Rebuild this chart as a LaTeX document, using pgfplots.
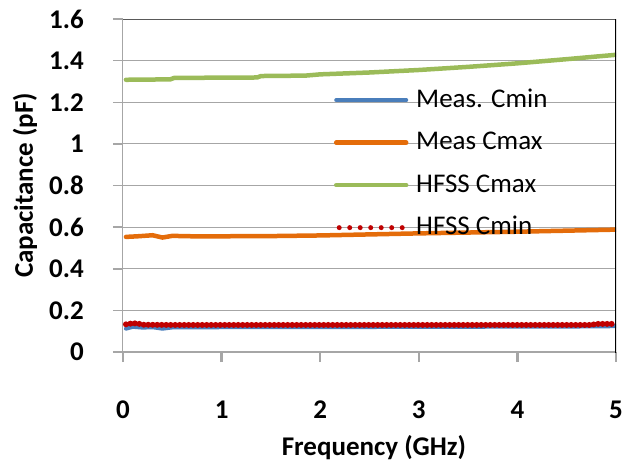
\documentclass[border=0pt]{standalone}
\usepackage{fontspec}
\setmainfont{Carlito}
\usepackage{pgfplots}
\pgfplotsset{compat=1.18}
\definecolor{cblue}{HTML}{4A7EBB}
\definecolor{corange}{HTML}{E46C0A}
\definecolor{cgreen}{HTML}{9BBB59}
\definecolor{cred}{HTML}{C00000}
\definecolor{gridgray}{HTML}{A6A6A6}
\definecolor{topgray}{HTML}{595959}
\begin{document}
\begin{tikzpicture}
\begin{axis}[
  scale only axis,
  width=493pt, height=333pt,
  xmin=0, xmax=5, ymin=0, ymax=1.6,
  xtick={0,1,2,3,4,5},
  ytick={0,0.2,0.4,0.6,0.8,1,1.2,1.4,1.6},
  yticklabels={0,0.2,0.4,0.6,0.8,1,1.2,1.4,1.6},
  xticklabels={0,1,2,3,4,5},
  axis x line*=bottom, axis y line*=left,
  x axis line style={draw=gridgray, line width=2.5pt, -},
  y axis line style={draw=gridgray, line width=1pt, -},
  tick align=outside,
  major tick length=10pt,
  xtick style={draw=gridgray, line width=2.5pt},
  ytick style={draw=gridgray, line width=1.5pt},
  ymajorgrids,
  major grid style={draw=gridgray, line width=1pt},
  /pgf/number format/assume math mode=true,
  ticklabel style={font=\bfseries\fontsize{27}{27}\selectfont},
  xticklabel style={anchor=center, yshift=-48pt},
  yticklabel style={anchor=east, inner sep=0pt, xshift=-29pt},
  xlabel={Frequency (GHz)},
  ylabel={Capacitance (pF)},
  label style={font=\bfseries\fontsize{27}{27}\selectfont},
  xlabel style={at={(axis description cs:0.509,-0.288)}, anchor=center},
  ylabel style={at={(axis description cs:-0.199,0.5)}, anchor=center},
  legend style={at={(axis description cs:0.426,0.796)}, anchor=north west,
    draw=none, fill=none, inner sep=0pt, row sep=16.5pt, column sep=0pt,
    font=\fontsize{27}{27}\selectfont,
    nodes={inner sep=0pt, text height=20pt, text depth=6pt}},
  legend cell align=left,
  legend image code/.code={\draw[#1] (0pt,0pt) -- (70pt,0pt); \path (77pt,0pt);},
]
\addplot[cblue, line width=4pt, line cap=round] coordinates {
 (0.03,0.112) (0.1,0.121) (0.2,0.117) (0.3,0.119) (0.4,0.112) (0.5,0.118)
 (1,0.119) (1.5,0.119) (2,0.12) (2.5,0.12) (3,0.121) (3.5,0.121) (4,0.122) (4.5,0.122) (5,0.124)
};
\addlegendentry{Meas. Cmin}
\addplot[corange, line width=4.5pt, line cap=round] coordinates {
 (0.03,0.553) (0.15,0.556) (0.3,0.561) (0.4,0.55) (0.5,0.558) (0.7,0.556)
 (1,0.556) (1.5,0.557) (2,0.56) (2.5,0.565) (3,0.57) (3.5,0.574) (4,0.578) (4.5,0.583) (5,0.588)
};
\addlegendentry{Meas Cmax}
\addplot[cgreen, line width=4.5pt, line cap=round] coordinates {
 (0.03,1.308) (0.48,1.31) (0.52,1.317) (1.36,1.319) (1.4,1.326) (1.85,1.328)
 (2,1.334) (2.5,1.343) (3,1.355) (3.5,1.37) (4,1.387) (4.5,1.407) (5,1.428)
};
\addlegendentry{HFSS Cmax}
\addplot[cred, line width=6pt, line cap=round, dash pattern=on 0pt off 4.5pt,
  legend image code/.code={\draw[cred, line width=5pt, line cap=round, dash pattern=on 0pt off 10.5pt] (3pt,0pt) -- (68pt,0pt); \path (0pt,0pt) (77pt,0pt);}] coordinates {
 (0.03,0.133) (0.1,0.138) (0.15,0.137) (0.2,0.131) (0.5,0.13) (1,0.13) (2,0.13)
 (3,0.13) (4,0.13) (4.75,0.13) (4.8,0.135) (5,0.135)
};
\addlegendentry{HFSS Cmin}
\draw[topgray, line width=1.5pt] (axis description cs:0,1) -- (axis description cs:1,1);
\draw[black, line width=1.5pt] (axis description cs:1,-0.005) -- (axis description cs:1,1.01);
\end{axis}
\pgfresetboundingbox
\path (-123pt,-112pt) rectangle (508pt,352pt);
\end{tikzpicture}
\end{document}
